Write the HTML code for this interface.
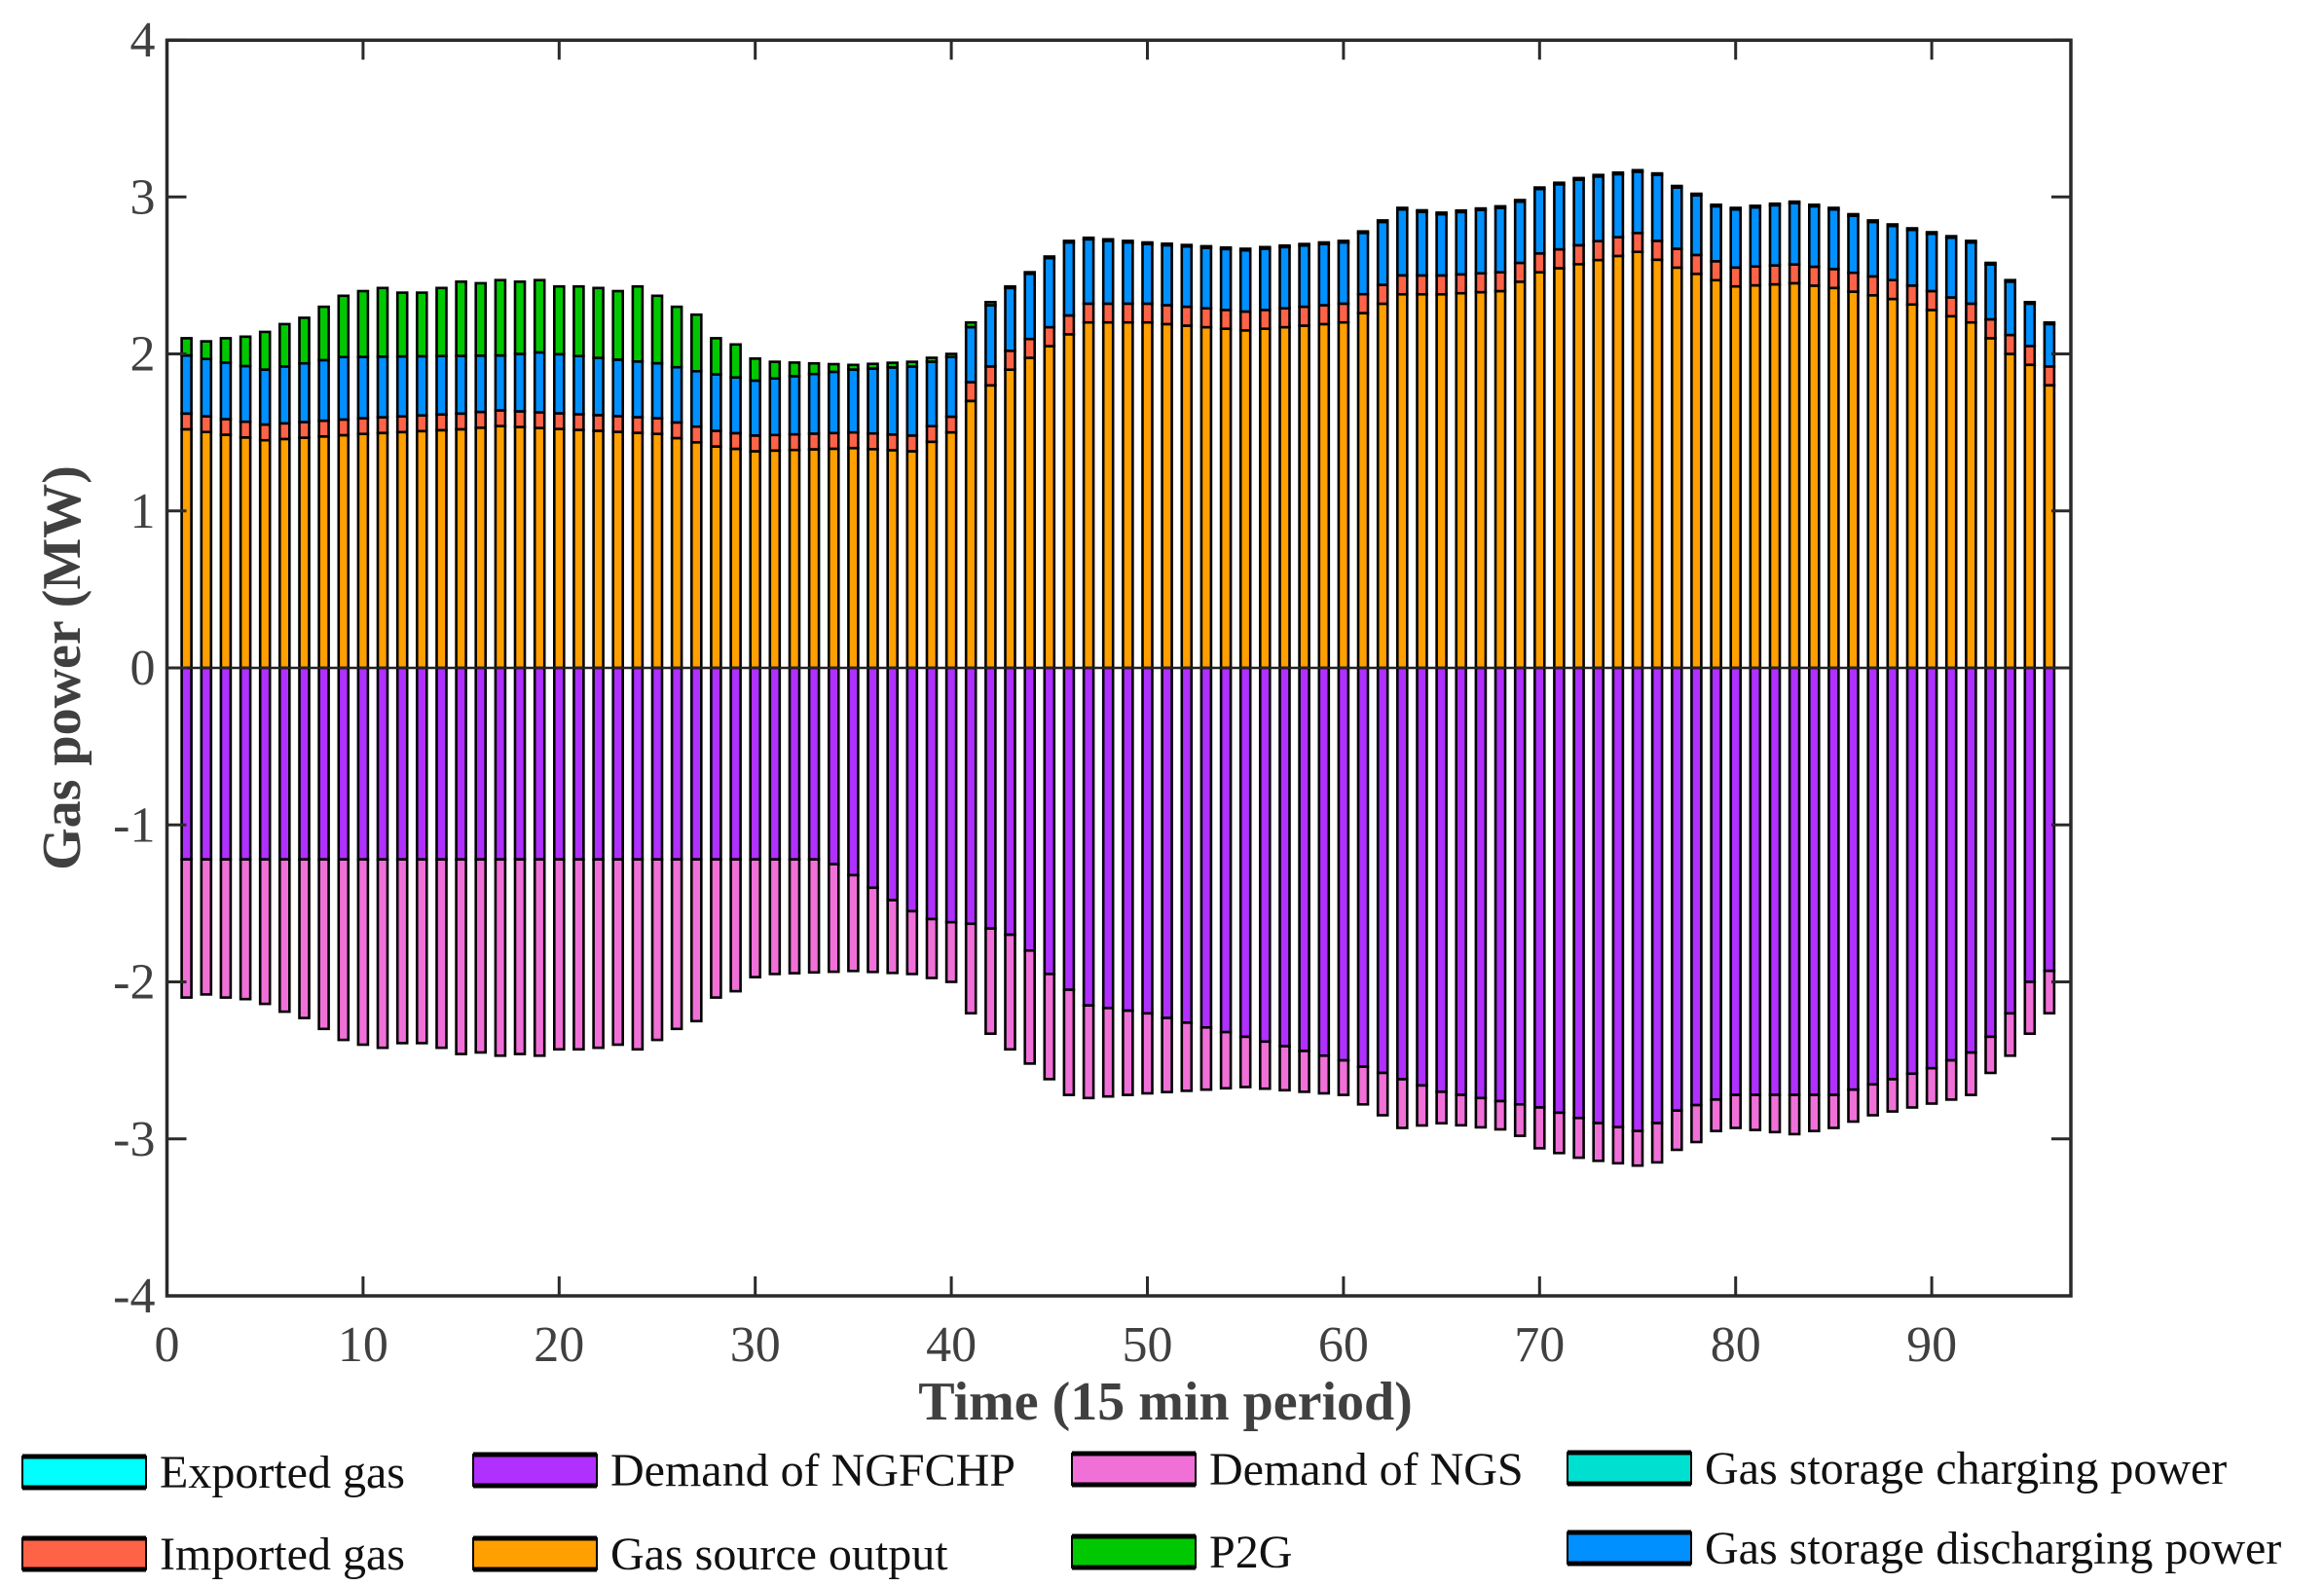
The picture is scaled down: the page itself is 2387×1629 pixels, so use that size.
<!DOCTYPE html>
<html><head><meta charset="utf-8"><style>
html,body{margin:0;padding:0;background:#fff;}
svg{display:block;}
text{font-family:"Liberation Serif",serif;fill:#404040;}
</style></head><body>
<svg id="s" width="2387" height="1629" viewBox="0 0 2387 1629" xmlns="http://www.w3.org/2000/svg"></svg>
<script>
const L=171.5,T=41.3,R=2127,B=1331,Y0=686,U=161.25,DX=20.14;
function X(t){return L+t*DX;}function Y(v){return Y0-v*U;}
function interp(kp){const ks=Object.keys(kp).map(Number).sort((a,b)=>a-b);const out=[];
for(let t=1;t<=96;t++){let i=0;while(i<ks.length-1&&ks[i+1]<t)i++;
if(t<=ks[0]){out[t]=kp[ks[0]];continue;}if(t>=ks[ks.length-1]){out[t]=kp[ks[ks.length-1]];continue;}
const a=ks[i],b=ks[i+1];out[t]=kp[a]+(kp[b]-kp[a])*(t-a)/(b-a);}return out;}
const O=interp({1:1.52,5:1.45,10:1.49,15:1.52,17:1.54,22:1.51,25:1.49,28:1.41,30:1.38,35:1.40,38:1.38,40:1.50,41:1.70,43:1.90,45:2.05,47:2.2,50:2.2,55:2.15,60:2.2,63:2.38,65:2.38,68:2.4,70:2.52,75:2.65,77:2.55,80:2.43,83:2.45,85:2.42,88:2.35,90:2.28,92:2.2,94:2.0,95:1.93,96:1.8});
const BT=interp({1:1.99,5:1.90,9:1.98,17:1.99,19:2.01,25:1.94,27:1.89,30:1.83,35:1.90,38:1.92,40:1.98,41:2.17,42:2.31,43:2.42});
const TOT=interp({1:2.10,2:2.08,3:2.10,4:2.11,5:2.14,6:2.19,7:2.23,8:2.30,9:2.37,10:2.40,11:2.42,12:2.39,13:2.39,14:2.42,15:2.46,16:2.45,17:2.47,18:2.46,19:2.47,20:2.43,21:2.43,22:2.42,23:2.40,24:2.43,25:2.37,26:2.30,27:2.25,28:2.10,29:2.06,30:1.97,31:1.95,35:1.93,38:1.95,40:2.0,41:2.2,42:2.33,43:2.43,44:2.52,45:2.62,46:2.72,47:2.74,50:2.71,55:2.67,60:2.72,61:2.78,62:2.85,63:2.93,65:2.9,68:2.94,69:2.98,70:3.06,71:3.09,72:3.12,73:3.14,75:3.17,76:3.15,77:3.07,78:3.02,79:2.95,80:2.93,83:2.97,85:2.93,87:2.85,89:2.8,91:2.75,92:2.72,93:2.58,94:2.47,95:2.33,96:2.2});
const P=interp({1:1.22,33:1.22,34:1.25,35:1.32,36:1.4,37:1.48,38:1.55,39:1.6,40:1.62,41:1.63,42:1.66,43:1.7,44:1.8,45:1.95,46:2.05,47:2.15,50:2.2,55:2.35,60:2.5,63:2.62,65:2.7,70:2.8,73:2.9,75:2.95,76:2.9,77:2.82,79:2.75,80:2.72,85:2.72,88:2.62,90:2.55,92:2.45,93:2.35,94:2.2,95:2.0,96:1.93});
let h='';
const W=10;
function seg(t,a,b,c){const y1=Y(Math.max(a,b)),y2=Y(Math.min(a,b));if(y2-y1<0.3)return;
h+=`<rect x="${(X(t)-W/2).toFixed(1)}" y="${y1.toFixed(1)}" width="${W}" height="${(y2-y1).toFixed(1)}" fill="${c}" stroke="#000" stroke-width="2.6"/>`;}
for(let t=1;t<=96;t++){
 const tot=TOT[t];const o=O[t];const r=o+(t>40?0.12:0.1);
 let bt=t>=43?tot-0.01:BT[t];if(bt>tot)bt=tot;
 seg(t,0,o,'#ff9f00');seg(t,o,r,'#ff6347');seg(t,r,bt,'#0090ff');seg(t,bt,tot,'#00c800');
 seg(t,0,-P[t],'#b030ff');seg(t,-P[t],-tot,'#f070d8');
}
h+=`<line x1="${L}" y1="${Y0}" x2="${R}" y2="${Y0}" stroke="#222" stroke-width="2.5"/>`;
h+=`<rect x="${L}" y="${T}" width="${R-L}" height="${B-T}" fill="none" stroke="#2a2a2a" stroke-width="3.5"/>`;
for(let v=-4;v<=4;v++){const y=Y(v);
 h+=`<line x1="${L}" y1="${y}" x2="${L+20}" y2="${y}" stroke="#2a2a2a" stroke-width="3"/><line x1="${R-20}" y1="${y}" x2="${R}" y2="${y}" stroke="#2a2a2a" stroke-width="3"/>`;
 h+=`<text x="${L-12}" y="${y+17}" font-size="52" text-anchor="end">${v}</text>`;}
for(let t=0;t<=90;t+=10){const x=X(t);
 h+=`<line x1="${x}" y1="${B}" x2="${x}" y2="${B-20}" stroke="#2a2a2a" stroke-width="3"/><line x1="${x}" y1="${T}" x2="${x}" y2="${T+20}" stroke="#2a2a2a" stroke-width="3"/>`;
 h+=`<text x="${x}" y="1398" font-size="52" text-anchor="middle">${t}</text>`;}
h+=`<text x="1197" y="1458" font-size="56" font-weight="bold" text-anchor="middle">Time (15 min period)</text>`;
h+=`<text transform="translate(82,686) rotate(-90)" font-size="56" font-weight="bold" text-anchor="middle">Gas power (MW)</text>`;
const leg=[[23,1512,'#00ffff','Exported gas'],[486,1510,'#b030ff','Demand of NGFCHP'],[1101,1509,'#f070d8','Demand of NGS'],[1610,1508,'#00e0d0','Gas storage charging power'],
[23,1596,'#ff6347','Imported gas'],[486,1596,'#ff9f00','Gas source output'],[1101,1594,'#00c800','P2G'],[1610,1590,'#0090ff','Gas storage discharging power']];
for(const [x,y,c,s] of leg){
 h+=`<rect x="${x}" y="${y-16}" width="127" height="32" fill="${c}" stroke="#000" stroke-width="2"/><line x1="${x}" y1="${y-16}" x2="${x+127}" y2="${y-16}" stroke="#000" stroke-width="5"/><line x1="${x}" y1="${y+16}" x2="${x+127}" y2="${y+16}" stroke="#000" stroke-width="5"/>`;
 h+=`<text x="${x+141}" y="${y+16}" font-size="48" fill="#111" style="fill:#111">${s}</text>`;}
document.getElementById('s').innerHTML=h;
</script>
</body></html>
